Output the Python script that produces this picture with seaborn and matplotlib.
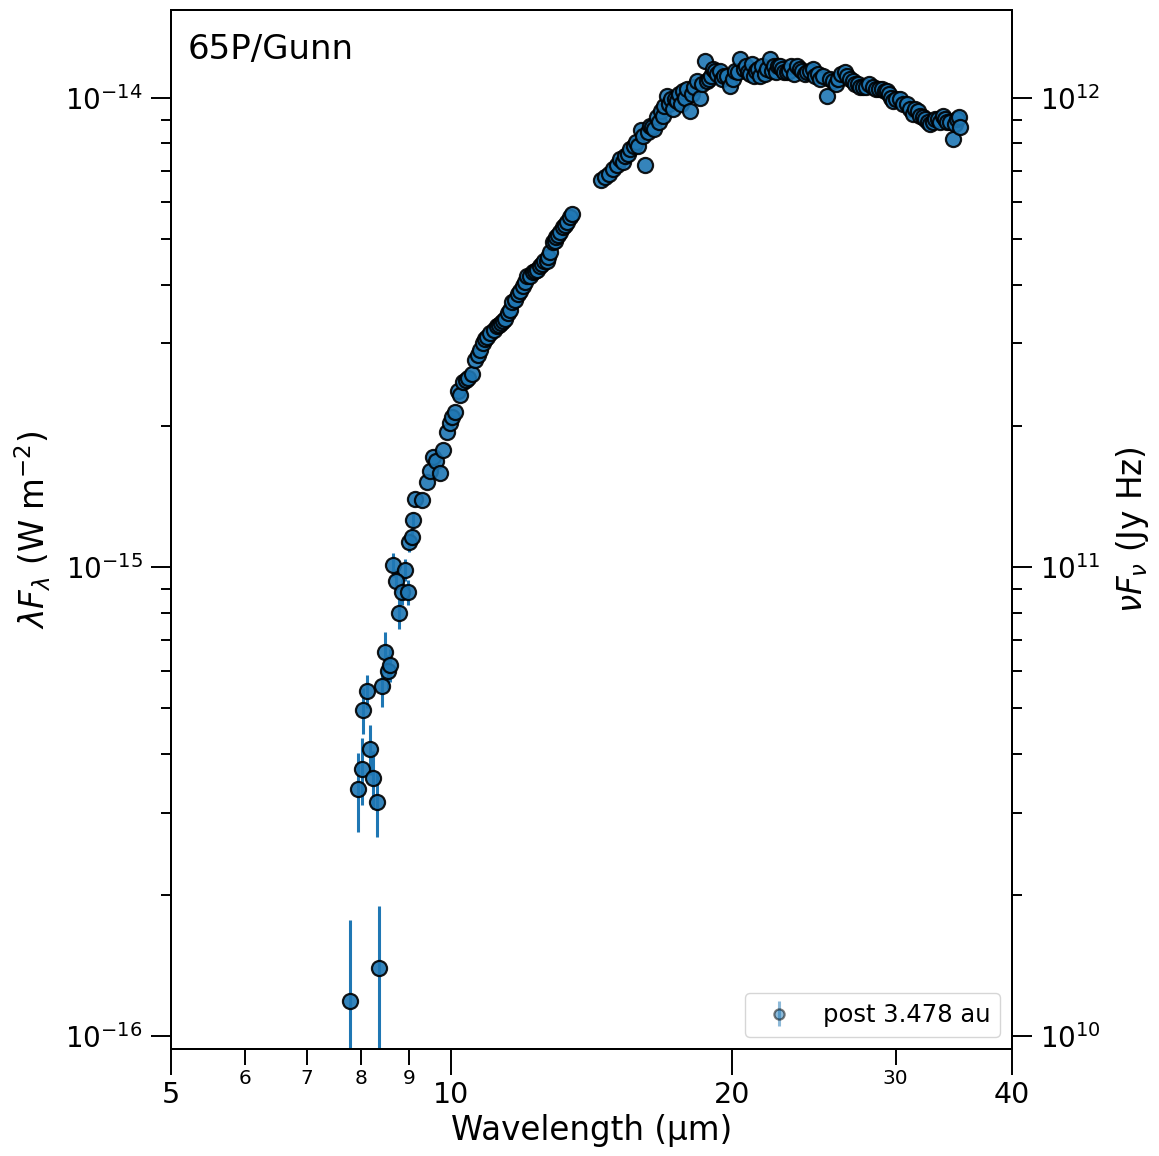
import numpy as np
import pandas as pd
import matplotlib
matplotlib.use("Agg")
import matplotlib.pyplot as plt
import seaborn as sns
from matplotlib.ticker import NullFormatter, LogLocator

# short wavelength points (visible error bars), W m^-2
wave_sw = [7.78, 8.36, 7.94, 8.02, 8.24, 8.32, 8.18, 8.04, 8.12, 8.43, 8.49, 8.55,
           8.60, 8.66, 8.92, 8.72, 8.85, 8.98, 8.79, 9.00, 9.07, 9.10]
flux_sw = [1.19e-16, 1.40e-16, 3.37e-16, 3.72e-16, 3.55e-16, 3.16e-16, 4.10e-16, 4.97e-16,
           5.45e-16, 5.58e-16, 6.61e-16, 6.01e-16, 6.19e-16, 1.012e-15, 9.88e-16, 9.36e-16,
           8.87e-16, 8.85e-16, 7.99e-16, 1.13e-15, 1.16e-15, 1.26e-15]
err_sw = [0.58e-16, 0.50e-16, 0.65e-16, 0.60e-16, 0.50e-16, 0.50e-16, 0.50e-16, 0.55e-16,
          0.45e-16, 0.55e-16, 0.65e-16, 0.50e-16, 0.50e-16, 0.60e-16, 0.55e-16, 0.55e-16,
          0.55e-16, 0.55e-16, 0.60e-16, 0.50e-16, 0.50e-16, 0.50e-16]

# 9 - 13.5 um
wave_mid = [9.14, 9.30, 9.42, 9.48, 9.56, 9.63, 9.72, 9.80, 9.89, 9.97, 10.02, 10.09, 10.17,
            10.22, 10.29, 10.37, 10.42, 10.53, 10.60, 10.68, 10.74, 10.82, 10.87, 10.92, 11.01,
            11.11, 11.20, 11.25, 11.31, 11.36, 11.42, 11.51, 11.56, 11.62, 11.71, 11.79, 11.85,
            11.94, 12.00, 12.06, 12.15, 12.24, 12.30, 12.36, 12.45, 12.51, 12.58, 12.67, 12.70,
            12.76, 12.86, 12.92, 12.95, 13.02, 13.08, 13.18, 13.25, 13.31, 13.41, 13.48]
flux_mid = [1.40, 1.39, 1.52, 1.60, 1.72, 1.68, 1.59, 1.78, 1.94, 2.03, 2.09, 2.14, 2.37,
            2.33, 2.48, 2.51, 2.53, 2.58, 2.77, 2.84, 2.91, 3.01, 3.06, 3.09, 3.16,
            3.21, 3.26, 3.28, 3.31, 3.34, 3.38, 3.49, 3.54, 3.67, 3.72, 3.82, 3.87,
            3.97, 4.05, 4.17, 4.17, 4.25, 4.27, 4.31, 4.38, 4.42, 4.49, 4.49, 4.58,
            4.69, 4.93, 4.95, 5.05, 5.10, 5.18, 5.30, 5.36, 5.44, 5.57, 5.65]  # 1e-15

# 14.5 - 35 um
wave_lw = [14.48, 14.62, 14.77, 14.92, 15.06, 15.18, 15.29, 15.36, 15.48, 15.56, 15.71, 15.79,
           15.87, 15.98, 16.06, 16.14, 16.26, 16.34, 16.43, 16.51, 16.63, 16.71, 16.79, 16.88,
           16.92, 17.04, 17.13, 17.21, 17.30, 17.39, 17.47, 17.56, 17.64, 17.73, 17.82, 17.91,
           18.04, 18.13, 18.22, 18.36, 18.50, 18.59, 18.73, 18.82, 18.92, 19.01, 19.10, 19.20,
           19.29, 19.43, 19.53, 19.63, 19.78, 19.92, 20.07, 20.17, 20.32, 20.42, 20.62, 20.72,
           20.82, 20.93, 21.03, 21.13, 21.24, 21.34, 21.45, 21.56, 21.72, 21.83, 21.99, 22.10,
           22.21, 22.32, 22.43, 22.54, 22.65, 22.77, 22.93, 23.05, 23.16, 23.34, 23.51, 23.69,
           23.80, 23.98, 24.10, 24.28, 24.46, 24.58, 24.77, 24.89, 25.07, 25.32, 25.51, 25.70,
           25.89, 26.02, 26.21, 26.47, 26.60, 26.80, 27.00, 27.13, 27.34, 27.47, 27.68, 27.88,
           28.09, 28.37, 28.58, 28.80, 29.01, 29.22, 29.37, 29.51, 29.66, 29.81, 30.03, 30.33,
           30.56, 30.86, 31.09, 31.32, 31.48, 31.71, 31.87, 32.10, 32.26, 32.50, 32.67, 32.91,
           33.07, 33.32, 33.48, 33.73, 33.90, 34.06, 34.32, 34.57, 34.75, 34.92, 35.10, 35.18]
flux_lw = [0.670, 0.678, 0.688, 0.706, 0.719, 0.741, 0.730, 0.752, 0.759, 0.778, 0.790, 0.806,
           0.790, 0.855, 0.830, 0.719, 0.846, 0.871, 0.867, 0.859, 0.911, 0.889, 0.938, 0.915,
           0.961, 1.010, 0.971, 0.995, 0.947, 0.995, 0.985, 1.020, 0.971, 1.035, 1.000, 1.045,
           0.938, 1.020, 1.056, 1.087, 1.000, 1.071, 1.199, 1.087, 1.098, 1.114, 1.153, 1.142,
           1.125, 1.142, 1.098, 1.114, 1.114, 1.061, 1.098, 1.142, 1.137, 1.211, 1.153, 1.170,
           1.137, 1.125, 1.182, 1.114, 1.142, 1.153, 1.114, 1.170, 1.125, 1.153, 1.211, 1.142,
           1.170, 1.137, 1.170, 1.170, 1.153, 1.137, 1.137, 1.142, 1.170, 1.125, 1.170, 1.153,
           1.142, 1.125, 1.137, 1.142, 1.153, 1.114, 1.125, 1.098, 1.114, 1.010, 1.098, 1.087,
           1.071, 1.098, 1.125, 1.137, 1.114, 1.098, 1.087, 1.071, 1.071, 1.056, 1.056, 1.056,
           1.071, 1.056, 1.045, 1.045, 1.045, 1.035, 1.035, 1.020, 1.000, 0.985, 0.995, 0.995,
           0.971, 0.971, 0.947, 0.924, 0.947, 0.938, 0.915, 0.911, 0.902, 0.889, 0.880, 0.889,
           0.902, 0.902, 0.889, 0.915, 0.902, 0.889, 0.889, 0.818, 0.880, 0.902, 0.911, 0.867]  # 1e-14

label = "post 3.478 au"
target = "65P/Gunn"
ylims = (9.4e-17, 1.54e-14)
xlims = (5, 40)

df = pd.DataFrame({
    "wave": wave_sw + wave_mid + wave_lw,
    "flux": flux_sw + [f * 1e-15 for f in flux_mid] + [f * 1e-14 for f in flux_lw],
})

sns.set_theme(style="ticks")
plt.rcParams["font.family"] = ["DejaVu Sans"]
plt.rcParams.update({
    "axes.edgecolor": "black",
    "axes.linewidth": 1.4,
    "text.color": "black",
    "axes.labelcolor": "black",
    "xtick.color": "black",
    "ytick.color": "black",
})

blue = "#1f77b4"
fig = plt.figure(figsize=(11.59, 11.56), dpi=100)
ax = fig.add_axes([0.1475, 0.0926, 0.7257, 0.8987])
ax.set_xscale("log")
ax.set_yscale("log")

ax.errorbar(wave_sw, flux_sw, yerr=err_sw, fmt="none", ecolor=blue, elinewidth=2.2, zorder=2)
sns.scatterplot(data=df, x="wave", y="flux", ax=ax, s=118, color=blue, edgecolor="black",
                linewidth=1.6, alpha=0.9, zorder=3, legend=False)

# legend proxy
h = ax.errorbar([np.nan], [np.nan], yerr=[np.nan], fmt="o", color=blue, mec="black",
                ms=10.5, mew=1.6, elinewidth=2.2, alpha=0.5)
ax.legend([h], [label], loc="lower right", fontsize=17.5, markerscale=0.7)

ax.set_xlim(*xlims)
ax.set_ylim(*ylims)
ax.set_xticks([5, 10, 20, 40], labels=["5", "10", "20", "40"])
ax.set_xticks([6, 7, 8, 9, 30], labels=["6", "7", "8", "9", "30"], minor=True)
ax.yaxis.set_major_locator(LogLocator(base=10))
ax.yaxis.set_minor_locator(LogLocator(base=10, subs=np.arange(2, 10)))
ax.yaxis.set_minor_formatter(NullFormatter())

ax.tick_params(axis="x", which="major", length=19, width=1.4, labelsize=20.5, pad=4)
ax.tick_params(axis="x", which="minor", length=11.5, width=1.4, labelsize=14.5, pad=3)
ax.tick_params(axis="y", which="major", length=14.4, width=1.4, labelsize=20, pad=6)
ax.tick_params(axis="y", which="minor", length=7.2, width=1.4)

ax.set_xlabel("Wavelength (µm)", fontsize=23.5, labelpad=4)
ax.set_ylabel(r"$\lambda F_\lambda$ (W m$^{-2}$)", fontsize=23.5, labelpad=9)
ax.text(0.02, 0.978, target, transform=ax.transAxes, ha="left", va="top", fontsize=24.5)

ax2 = ax.twinx()
ax2.set_yscale("log")
ax2.set_ylim(ylims[0] * 1e26, ylims[1] * 1e26)
ax2.yaxis.set_major_locator(LogLocator(base=10))
ax2.yaxis.set_minor_locator(LogLocator(base=10, subs=np.arange(2, 10)))
ax2.yaxis.set_minor_formatter(NullFormatter())
ax2.tick_params(axis="y", which="major", length=14.4, width=1.4, labelsize=20, pad=6)
ax2.tick_params(axis="y", which="minor", length=7.2, width=1.4)
ax2.set_ylabel(r"$\nu F_\nu$ (Jy Hz)", fontsize=23.5, labelpad=9)
for a in (ax, ax2):
    for sp in a.spines.values():
        sp.set_linewidth(1.4)
        sp.set_color("black")

fig.savefig("out.png", dpi=100)
